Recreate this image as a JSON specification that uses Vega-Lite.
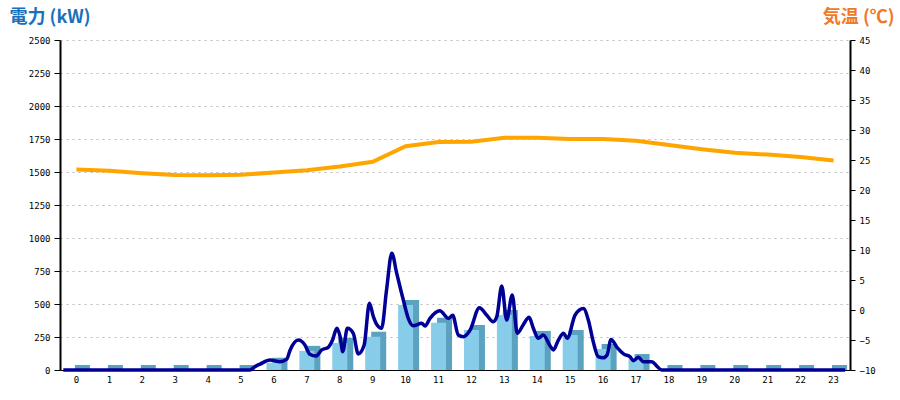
{
  "$schema": "https://vega.github.io/schema/vega-lite/v6.json",
  "width": 790,
  "height": 330,
  "autosize": {"type": "none"},
  "padding": {"left": 60, "top": 40, "right": 50, "bottom": 30},
  "background": "white",
  "config": {
    "view": {"stroke": null},
    "axis": {
      "labelFont": "DejaVu Sans Mono",
      "labelFontSize": 9,
      "labelColor": "#000000",
      "domainColor": "#000000",
      "tickColor": "#000000"
    }
  },
  "datasets": {
    "hourly": [
      {"hour": 0, "kw": 0, "temp": 23.4},
      {"hour": 1, "kw": 0, "temp": 23.2},
      {"hour": 2, "kw": 0, "temp": 22.8},
      {"hour": 3, "kw": 0, "temp": 22.5},
      {"hour": 4, "kw": 0, "temp": 22.45},
      {"hour": 5, "kw": 0, "temp": 22.55},
      {"hour": 6, "kw": 55, "temp": 22.9},
      {"hour": 7, "kw": 145, "temp": 23.3},
      {"hour": 8, "kw": 205, "temp": 23.9},
      {"hour": 9, "kw": 252, "temp": 24.7},
      {"hour": 10, "kw": 492, "temp": 27.3},
      {"hour": 11, "kw": 358, "temp": 28.0},
      {"hour": 12, "kw": 303, "temp": 28.05},
      {"hour": 13, "kw": 417, "temp": 28.7},
      {"hour": 14, "kw": 258, "temp": 28.7},
      {"hour": 15, "kw": 265, "temp": 28.5},
      {"hour": 16, "kw": 159, "temp": 28.5},
      {"hour": 17, "kw": 83, "temp": 28.2},
      {"hour": 18, "kw": 0, "temp": 27.5},
      {"hour": 19, "kw": 0, "temp": 26.8},
      {"hour": 20, "kw": 0, "temp": 26.2},
      {"hour": 21, "kw": 0, "temp": 25.9},
      {"hour": 22, "kw": 0, "temp": 25.5},
      {"hour": 23, "kw": 0, "temp": 24.9}
    ],
    "power": [
      {"t": 0.1, "kw": 0},
      {"t": 5.77, "kw": 0},
      {"t": 5.92, "kw": 25},
      {"t": 6.08, "kw": 45},
      {"t": 6.38, "kw": 76},
      {"t": 6.68, "kw": 63},
      {"t": 6.89, "kw": 83},
      {"t": 6.99, "kw": 150},
      {"t": 7.24, "kw": 227},
      {"t": 7.44, "kw": 190},
      {"t": 7.59, "kw": 119},
      {"t": 7.78, "kw": 106},
      {"t": 7.95, "kw": 152},
      {"t": 8.15, "kw": 172},
      {"t": 8.28, "kw": 227},
      {"t": 8.41, "kw": 316},
      {"t": 8.51, "kw": 252},
      {"t": 8.59, "kw": 139},
      {"t": 8.73, "kw": 316},
      {"t": 8.91, "kw": 278},
      {"t": 9.06, "kw": 121},
      {"t": 9.24, "kw": 189},
      {"t": 9.4, "kw": 505},
      {"t": 9.52, "kw": 404},
      {"t": 9.62, "kw": 346},
      {"t": 9.77, "kw": 316},
      {"t": 9.92, "kw": 606},
      {"t": 10.08, "kw": 884},
      {"t": 10.23, "kw": 732},
      {"t": 10.43, "kw": 530},
      {"t": 10.58, "kw": 392},
      {"t": 10.73, "kw": 335},
      {"t": 10.99, "kw": 354},
      {"t": 11.09, "kw": 333},
      {"t": 11.24, "kw": 391},
      {"t": 11.54, "kw": 449},
      {"t": 11.8, "kw": 391},
      {"t": 11.93, "kw": 414},
      {"t": 12.1, "kw": 265},
      {"t": 12.25, "kw": 252},
      {"t": 12.46, "kw": 303},
      {"t": 12.74, "kw": 472},
      {"t": 12.96, "kw": 417},
      {"t": 13.16, "kw": 366},
      {"t": 13.27, "kw": 404},
      {"t": 13.42, "kw": 636},
      {"t": 13.57, "kw": 379},
      {"t": 13.74, "kw": 568},
      {"t": 13.89, "kw": 278},
      {"t": 14.07, "kw": 341},
      {"t": 14.25, "kw": 399},
      {"t": 14.38, "kw": 316},
      {"t": 14.53, "kw": 240},
      {"t": 14.68, "kw": 265},
      {"t": 14.89, "kw": 182},
      {"t": 14.99, "kw": 152},
      {"t": 15.14, "kw": 227},
      {"t": 15.3, "kw": 278},
      {"t": 15.41, "kw": 240},
      {"t": 15.65, "kw": 417},
      {"t": 15.9, "kw": 465},
      {"t": 16.05, "kw": 379},
      {"t": 16.2, "kw": 214},
      {"t": 16.35, "kw": 101},
      {"t": 16.5, "kw": 92},
      {"t": 16.62, "kw": 114},
      {"t": 16.74, "kw": 232},
      {"t": 16.94, "kw": 165},
      {"t": 17.13, "kw": 120},
      {"t": 17.32, "kw": 100},
      {"t": 17.42, "kw": 71},
      {"t": 17.57, "kw": 96},
      {"t": 17.72, "kw": 63},
      {"t": 17.98, "kw": 63},
      {"t": 18.13, "kw": 30},
      {"t": 18.28, "kw": 0},
      {"t": 23.85, "kw": 0}
    ]
  },
  "resolve": {"scale": {"x": "independent", "y": "independent"}},
  "layer": [
    {
      "data": {"name": "hourly"},
      "mark": {"type": "bar", "color": "#5aa2bf", "xOffset": 6},
      "encoding": {
        "x": {"field": "hour", "type": "ordinal", "axis": null,
              "scale": {"domain": [0,1,2,3,4,5,6,7,8,9,10,11,12,13,14,15,16,17,18,19,20,21,22,23], "paddingInner": 0.5443, "paddingOuter": 0.27215}},
        "y": {"field": "kw", "type": "quantitative", "axis": null, "scale": {"domain": [-37.88, 2462.12], "zero": false, "nice": false}},
        "y2": {"datum": -37.88}
      }
    },
    {
      "data": {"name": "hourly"},
      "mark": {"type": "bar", "color": "#87cdea"},
      "encoding": {
        "x": {"field": "hour", "type": "ordinal",
              "scale": {"domain": [0,1,2,3,4,5,6,7,8,9,10,11,12,13,14,15,16,17,18,19,20,21,22,23], "paddingInner": 0.5443, "paddingOuter": 0.27215},
              "axis": {"title": null, "orient": "bottom", "labelAngle": 0, "ticks": false, "labelPadding": 5, "domainWidth": 1.2}},
        "y": {"field": "kw", "type": "quantitative", "scale": {"domain": [0, 2500]},
              "axis": {"orient": "left", "values": [0,250,500,750,1000,1250,1500,1750,2000,2250,2500], "format": "d",
                       "grid": true, "gridDash": [2, 4], "gridColor": "#bbbbbb", "gridWidth": 1,
                       "tickSize": 6, "labelPadding": 4, "domainWidth": 2,
                       "title": "電力 (kW)", "titleAngle": 0, "titleAlign": "left", "titleBaseline": "top",
                       "titleX": -51, "titleY": -32, "titleFont": "Noto Sans CJK JP", "titleFontSize": 18,
                       "titleFontWeight": "bold", "titleColor": "#1a70bb"}}
      }
    },
    {
      "data": {"name": "hourly"},
      "mark": {"type": "line", "color": "#ffa500", "strokeWidth": 4},
      "encoding": {
        "x": {"field": "hour", "type": "ordinal", "axis": null,
              "scale": {"type": "point", "padding": 0.5, "domain": [0,1,2,3,4,5,6,7,8,9,10,11,12,13,14,15,16,17,18,19,20,21,22,23]}},
        "y": {"field": "temp", "type": "quantitative", "scale": {"domain": [-10, 45]},
              "axis": {"orient": "right", "values": [-10,-5,0,5,10,15,20,25,30,35,40,45],
                       "grid": false, "tickSize": 5, "labelPadding": 4, "domainWidth": 2,
                       "title": "気温 (℃)", "titleAngle": 0, "titleAlign": "right", "titleBaseline": "top",
                       "titleX": 44, "titleY": -32, "titleFont": "Noto Sans CJK JP", "titleFontSize": 18,
                       "titleFontWeight": "bold", "titleColor": "#f07828"}}
      }
    },
    {
      "mark": {"type": "rule", "color": "#000000", "strokeWidth": 1.3},
      "encoding": {
        "y": {"datum": 0, "type": "quantitative", "scale": {"domain": [-10, 45]}, "axis": null}
      }
    },
    {
      "data": {"name": "power"},
      "mark": {"type": "line", "color": "#000096", "strokeWidth": 3.5, "interpolate": "monotone"},
      "encoding": {
        "x": {"field": "t", "type": "quantitative", "axis": null, "scale": {"domain": [0, 24], "nice": false}},
        "y": {"field": "kw", "type": "quantitative", "axis": null, "scale": {"domain": [0, 2500]}}
      }
    }
  ]
}
